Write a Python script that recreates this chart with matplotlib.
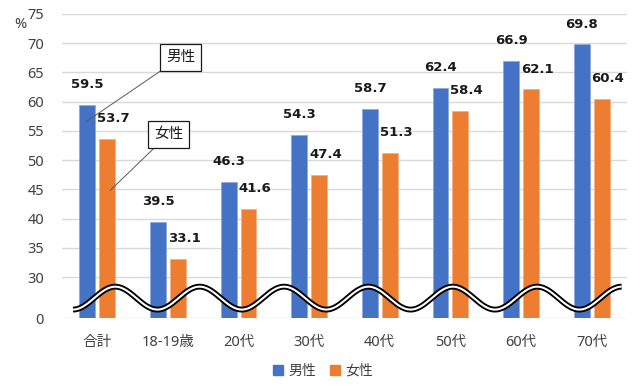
import numpy as np
import matplotlib
matplotlib.use("Agg")
import matplotlib.pyplot as plt
from matplotlib.patches import Patch
import matplotlib.patheffects as pe

plt.rcParams['font.family'] = ['Noto Sans', 'Noto Sans CJK JP', 'DejaVu Sans']

categories = ['合計', '18-19歳', '20代', '30代', '40代', '50代', '60代', '70代']
male = [59.5, 39.5, 46.3, 54.3, 58.7, 62.4, 66.9, 69.8]
female = [53.7, 33.1, 41.6, 47.4, 51.3, 58.4, 62.1, 60.4]
series_names = ['男性', '女性']
ytick_values = [0, 30, 35, 40, 45, 50, 55, 60, 65, 70, 75]

BLUE = '#4472C4'
ORANGE = '#ED7D31'
TXT = '#404040'

# broken axis: real value 0 is drawn at plot position BASE (axis gap 0..30)
BASE = 23.0
def to_plot(v):
    return v if v >= 30 else BASE + (v / 30.0) * (30 - BASE) if v > 0 else BASE

fig = plt.figure(figsize=(6.4, 3.92), dpi=100)
ax = fig.add_axes([62/640, 1-318/392, 565/640, 304/392])

x = np.arange(len(categories))
w = 0.225
off = 0.14
ax.bar(x - off, [v - BASE for v in male], w, bottom=BASE, color=BLUE,
       edgecolor='#8FAADC', linewidth=0.6, zorder=2)
ax.bar(x + off, [v - BASE for v in female], w, bottom=BASE, color=ORANGE,
       edgecolor='#F4B183', linewidth=0.6, zorder=2)

for xi, v in zip(x, male):
    ax.annotate(f'{v:.1f}', (xi - off, v), xytext=(0, 10), textcoords='offset points',
                ha='center', va='bottom', fontsize=9.5, fontweight='bold',
                family='DejaVu Sans', color='#1a1a1a', zorder=4)
for xi, v in zip(x, female):
    ax.annotate(f'{v:.1f}', (xi + off, v), xytext=(4.5, 10), textcoords='offset points',
                ha='center', va='bottom', fontsize=9.5, fontweight='bold',
                family='DejaVu Sans', color='#1a1a1a', zorder=4)

ax.set_xlim(-0.5, len(categories) - 0.5)
ax.set_ylim(BASE, 75)
ax.set_yticks([to_plot(v) for v in ytick_values])
ax.set_yticklabels([str(v) for v in ytick_values], fontsize=10.5, color=TXT)
ax.set_xticks(x)
ax.set_xticklabels(categories, fontsize=10.5, color=TXT)
ax.tick_params(axis='both', length=0)
ax.tick_params(axis='y', pad=13)
ax.tick_params(axis='x', pad=12)
ax.grid(axis='y', color='#D9D9D9', linewidth=1.0, zorder=0)
ax.set_axisbelow(True)
for s in ax.spines.values():
    s.set_visible(False)

# wavy break mark (decoration)
px = 70.625
x0 = (73 - 97.3) / px
P = 84.4 / px
xs = np.linspace(x0, x0 + 6.5 * P, 400)
ys = 26.4 - 1.96 * np.cos(2 * np.pi * (xs - x0) / P)
ax.plot(xs, ys, color='white', linewidth=1.5, zorder=3, solid_capstyle='butt',
        path_effects=[pe.Stroke(linewidth=4.2, foreground='black'), pe.Normal()],
        clip_on=False)

# % label
fig.text(20/640, 1-25/392, '%', fontsize=10.5, color=TXT, ha='center', va='center')

# callouts
ax.annotate('男性', xy=((86 - 97.3) / px, 75 - (122 - 14) * 5 / 29.3),
            xytext=((180.5 - 97.3) / px, 75 - (57.5 - 14) * 5 / 29.3),
            fontsize=10.5, ha='center', va='center', color='#1a1a1a',
            bbox=dict(boxstyle='square,pad=0.4', fc='white', ec='#1a1a1a', lw=0.9),
            arrowprops=dict(arrowstyle='-', color='#595959', lw=0.7,
                            shrinkA=0, shrinkB=0), zorder=5)
ax.annotate('女性', xy=((110 - 97.3) / px, 75 - (191 - 14) * 5 / 29.3),
            xytext=((168.5 - 97.3) / px, 75 - (134.5 - 14) * 5 / 29.3),
            fontsize=10.5, ha='center', va='center', color='#1a1a1a',
            bbox=dict(boxstyle='square,pad=0.4', fc='white', ec='#1a1a1a', lw=0.9),
            arrowprops=dict(arrowstyle='-', color='#595959', lw=0.7,
                            shrinkA=0, shrinkB=0), zorder=5)

handles = [Patch(color=BLUE, label=series_names[0]), Patch(color=ORANGE, label=series_names[1])]
fig.legend(handles=handles, loc='center', bbox_to_anchor=(323/640, 1-371/392), ncol=2,
           frameon=False, fontsize=10, handlelength=0.7, handleheight=0.7,
           handletextpad=0.4, columnspacing=1.0, labelcolor=TXT)

fig.savefig('out.png', dpi=100)
